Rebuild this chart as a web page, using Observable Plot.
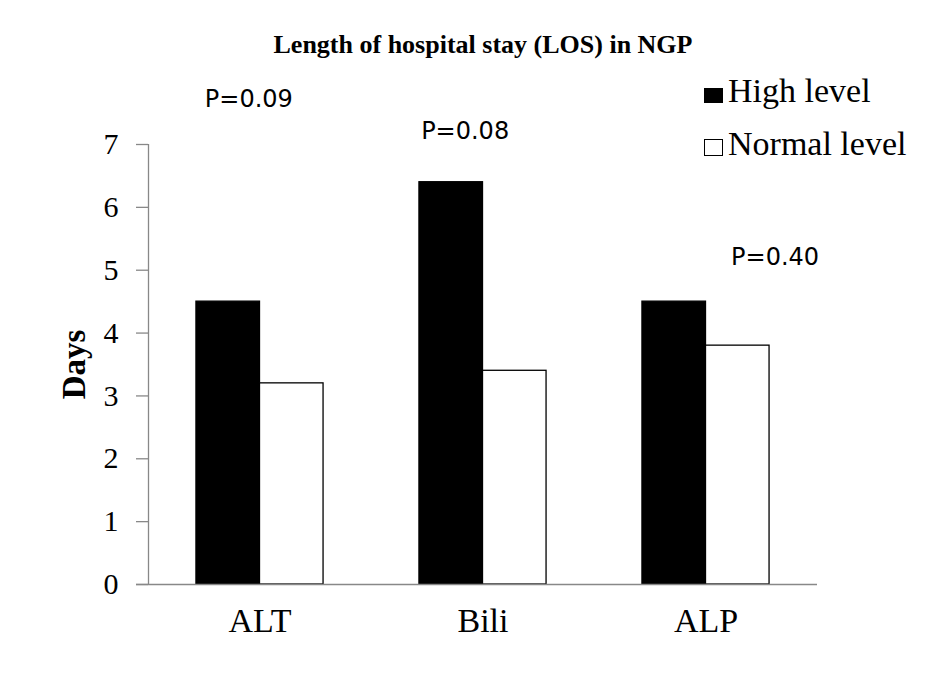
<!DOCTYPE html>
<html>
<head>
<meta charset="utf-8">
<script src="https://cdn.jsdelivr.net/npm/d3@7"></script>
<script src="https://cdn.jsdelivr.net/npm/@observablehq/plot@0.6"></script>
<style>
  body { margin: 0; background: #fff; }
  #wrap { position: relative; width: 933px; height: 680px; background: #fff; font-family: "Liberation Serif", "Times New Roman", serif; }
  #title { position: absolute; top: 32px; left: 483px; transform: translateX(-50%); white-space: nowrap;
           font-size: 26px; font-weight: bold; line-height: 1; }
  .leg { position: absolute; font-size: 34px; line-height: 1; white-space: nowrap; }
  .sw { position: absolute; box-sizing: border-box; border: 1px solid #000; }
  #chart { position: absolute; left: 0; top: 0; }
</style>
</head>
<body>
<div id="wrap">
  <div id="chart"></div>
  <div id="title"></div>
  <div id="legend"></div>
</div>
<script>
const titleText = "Length of hospital stay (LOS) in NGP";
const categories = ["ALT", "Bili", "ALP"];
const series = ["High level", "Normal level"];
const highLevel = [4.5, 6.4, 4.5];
const normalLevel = [3.2, 3.4, 3.8];
const yTicks = [0, 1, 2, 3, 4, 5, 6, 7];
const yLabel = "Days";
const pLabels = ["P=0.09", "P=0.08", "P=0.40"];
// annotation anchor positions (x in category units, y in days)
const pLabelX = [-0.05, 0.92, 2.31];
const pLabelY = [7.72, 7.21, 5.21];

const barW = 0.285;
const tickLen = 12 / 223;
const rows = [];
categories.forEach((c, i) => {
  rows.push({cat: c, i, series: series[0], value: highLevel[i], x1: i - barW, x2: i});
  rows.push({cat: c, i, series: series[1], value: normalLevel[i], x1: i, x2: i + barW});
});
const pRows = pLabels.map((t, k) => ({t, x: pLabelX[k], y: pLabelY[k]}));

document.getElementById("title").textContent = titleText;

const chart = Plot.plot({
  width: 933,
  height: 680,
  marginLeft: 148,
  marginRight: 116,
  marginTop: 144,
  marginBottom: 96,
  style: {background: "white", fontFamily: "'Liberation Serif', 'Times New Roman', serif", color: "black"},
  x: {domain: [-0.5, 2.5], axis: null},
  y: {domain: [0, 7], axis: null},
  color: {domain: series, range: ["black", "white"]},
  marks: [
    Plot.rectY(rows, {x1: "x1", x2: "x2", y: "value", fill: "series", stroke: "black", strokeWidth: 1.3}),
    Plot.ruleY(yTicks, {x1: -0.5 - tickLen, x2: -0.5, stroke: "#888", strokeWidth: 1.3, clip: false}),
    Plot.ruleX([-0.5], {y1: 0, y2: 7, stroke: "#888", strokeWidth: 1.3}),
    Plot.ruleY([0], {x1: -0.5 - tickLen, x2: 2.5, stroke: "#888", strokeWidth: 1.3, clip: false}),
    Plot.axisY({ticks: yTicks, tickFormat: d => String(d), tickSize: 0, tickPadding: 30, fontSize: 30, fill: "black", label: null}),
    Plot.axisX({ticks: [0, 1, 2], tickFormat: i => categories[i], tickSize: 0, tickPadding: 23, fontSize: 34, fill: "black", label: null}),
    Plot.text([yLabel], {frameAnchor: "left", textAnchor: "middle", rotate: -90, dx: -74, fontSize: 33, fontWeight: "bold", fill: "black"}),
    Plot.text(pRows, {x: "x", y: "y", text: "t", fontFamily: "'DejaVu Sans', sans-serif", fontSize: 24, fill: "black", textAnchor: "middle", lineAnchor: "middle", clip: false})
  ]
});
document.getElementById("chart").appendChild(chart);

// legend
const legend = document.getElementById("legend");
const legTops = [74, 127];
const swTops = [88, 139];
series.forEach((s, k) => {
  const sw = document.createElement("div");
  sw.className = "sw";
  sw.style.left = "704px";
  sw.style.top = swTops[k] + "px";
  sw.style.width = "19px";
  sw.style.height = k === 0 ? "15px" : "17px";
  sw.style.background = k === 0 ? "#000" : "#fff";
  legend.appendChild(sw);
  const t = document.createElement("div");
  t.className = "leg";
  t.style.left = "728px";
  t.style.top = legTops[k] + "px";
  t.textContent = s;
  legend.appendChild(t);
});
</script>
</body>
</html>
